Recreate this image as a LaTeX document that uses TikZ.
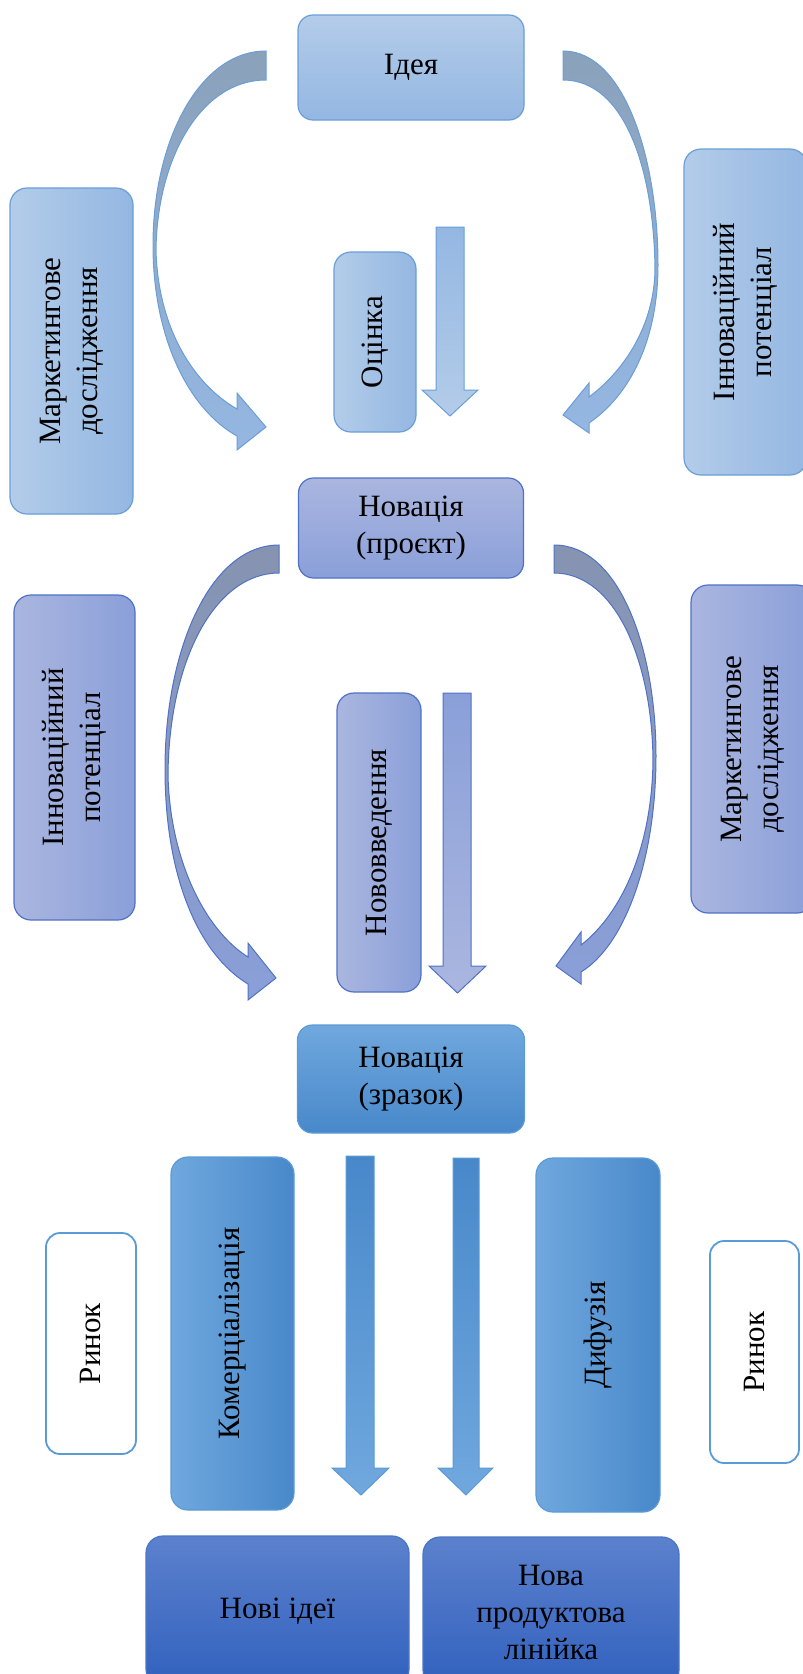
\documentclass[tikz,border=0pt]{standalone}
\usepackage{fontspec}
\setmainfont{Liberation Serif}

\definecolor{edgeA}{HTML}{6A9ED8}
\definecolor{aLight}{HTML}{B3CCE9}
\definecolor{aDark}{HTML}{94B7E2}
\definecolor{aGrey}{HTML}{8AA1BA}
\definecolor{edgeB}{HTML}{4F72C6}
\definecolor{bLight}{HTML}{AAB6DF}
\definecolor{bDark}{HTML}{8A9FD9}
\definecolor{bGrey}{HTML}{8693B0}
\definecolor{edgeC}{HTML}{5B9BD5}
\definecolor{cLight}{HTML}{70A8DE}
\definecolor{cDark}{HTML}{4888CA}
\definecolor{edgeD}{HTML}{4A75C8}
\definecolor{dLight}{HTML}{5C81CD}
\definecolor{dDark}{HTML}{3161BE}

\begin{document}
\begin{tikzpicture}[x=1pt, y=-1pt, font=\rmfamily\fontsize{31}{37}\selectfont]
        \tikzstyle{stageA}=[rectangle,rounded corners=15pt,draw=edgeA,line width=1.2pt,top color=aLight,bottom color=aDark,minimum width=226pt,minimum height=105pt,inner sep=0pt,align=center]
        \tikzstyle{sideA}=[rectangle,rounded corners=17pt,draw=edgeA,line width=1.2pt,rotate=90,left color=aLight,right color=aDark,inner sep=0pt,align=center]
        \tikzstyle{stageB}=[rectangle,rounded corners=15pt,draw=edgeB,line width=1.2pt,top color=bLight,bottom color=bDark,minimum width=225pt,minimum height=100pt,inner sep=0pt,align=center]
        \tikzstyle{sideB}=[rectangle,rounded corners=17pt,draw=edgeB,line width=1.2pt,rotate=90,left color=bLight,right color=bDark,inner sep=0pt,align=center]
        \tikzstyle{stageC}=[rectangle,rounded corners=15pt,draw=edgeC,line width=1.2pt,top color=cLight,bottom color=cDark,minimum width=227pt,minimum height=108pt,inner sep=0pt,align=center]
        \tikzstyle{sideC}=[rectangle,rounded corners=17pt,draw=edgeC,line width=1.2pt,rotate=90,left color=cLight,right color=cDark,inner sep=0pt,align=center]
        \tikzstyle{market}=[rectangle,rounded corners=14pt,draw=edgeC,line width=1.8pt,fill=white,rotate=90,inner sep=0pt,align=center]
        \tikzstyle{result}=[rectangle,rounded corners=17pt,draw=edgeD,line width=1.2pt,top color=dLight,bottom color=dDark,minimum height=150pt,inner sep=0pt,align=center]

        \useasboundingbox (0,0) rectangle (803,1674);
        \clip (0,0) rectangle (803,1674);

        % centre column
        \node[stageA] (idea) at (411,67.5) {Ідея};
        \node[stageB, below of=idea, node distance=460.5pt] (proekt) {Новація\\(проєкт)};
        \node[stageC, below of=proekt, node distance=551pt] (zrazok) {Новація\\(зразок)};

        % first step
        \node[sideA, minimum width=326pt, minimum height=123pt] (markA) at (71.5,351) {Маркетингове\\дослідження};
        \node[sideA, minimum width=326pt, minimum height=123pt] (innovA) at (745.5,312) {Інноваційний\\потенціал};
        \node[sideA, minimum width=180pt, minimum height=82pt] (ocinka) at (375,342) {Оцінка};

        % second step
        \node[sideB, minimum width=325pt, minimum height=121pt] (innovB) at (74.5,757.5) {Інноваційний\\потенціал};
        \node[sideB, minimum width=328pt, minimum height=123pt] (markB) at (752.5,749) {Маркетингове\\дослідження};
        \node[sideB, minimum width=299pt, minimum height=84pt] (novov) at (379,842.5) {Нововведення};

        % third step
        \node[sideC, minimum width=353pt, minimum height=123pt] (komerc) at (232.5,1333.5) {Комерціалізація};
        \node[sideC, minimum width=354pt, minimum height=124pt] (dyfuz) at (598,1335) {Дифузія};
        \node[market, minimum width=221pt, minimum height=90pt] (rynokA) at (91,1343.5) {Ринок};
        \node[market, minimum width=222pt, minimum height=89pt] (rynokB) at (754.5,1352) {Ринок};
        \node[result, minimum width=263pt] (ideas) at (277.5,1611) {Нові ідеї};
        \node[result, minimum width=256pt] (line) at (551,1612) {Нова\\продуктова\\лінійка};

        % curved arrows
        \draw[draw=edgeA, line width=1pt, top color=aGrey, bottom color=aDark] (266,51) .. controls (200,51) and (153,140) .. (153,245) .. controls (153,340) and (190,410) .. (237,436) -- (237,450) -- (266,427) -- (237,393) -- (237,409) .. controls (195,385) and (158,330) .. (156,250) .. controls (157,160) and (200,80) .. (266,80) -- cycle;
        \draw[draw=edgeA, line width=1pt, top color=aGrey, bottom color=aDark] (563,51) .. controls (625,51) and (658,160) .. (658,265) .. controls (658,340) and (630,395) .. (589,423) -- (589,433) -- (563,415) -- (589,383) -- (589,397) .. controls (625,370) and (654,325) .. (655,270) .. controls (654,170) and (625,80) .. (563,80) -- cycle;
        \draw[draw=edgeB, line width=1pt, top color=bGrey, bottom color=bDark] (279,545) .. controls (210,545) and (165,650) .. (165,769) .. controls (165,880) and (200,955) .. (248,984) -- (248,1000) -- (276,978) -- (248,943) -- (248,957) .. controls (205,930) and (170,860) .. (168,775) .. controls (169,660) and (215,573) .. (279,573) -- cycle;
        \draw[draw=edgeB, line width=1pt, top color=bGrey, bottom color=bDark] (554,545) .. controls (620,545) and (656,650) .. (656,756) .. controls (656,860) and (625,945) .. (581,972) -- (581,984) -- (556,966) -- (581,932) -- (581,945) .. controls (620,915) and (652,850) .. (653,760) .. controls (652,660) and (615,573) .. (554,573) -- cycle;

        % straight arrows
        \draw[draw=edgeA, line width=1pt, top color=aDark, bottom color=aLight] (436,227) -- (464,227) -- (464,390) -- (478,390) -- (450,416) -- (422,390) -- (436,390) -- cycle;
        \draw[draw=edgeB, line width=1pt, top color=bDark, bottom color=bLight] (443,693) -- (471,693) -- (471,966) -- (486,966) -- (457.5,993) -- (429,966) -- (443,966) -- cycle;
        \draw[draw=edgeC, line width=1pt, top color=cDark, bottom color=cLight] (346,1156) -- (374,1156) -- (374,1468) -- (389,1468) -- (361,1495) -- (332,1468) -- (346,1468) -- cycle;
        \draw[draw=edgeC, line width=1pt, top color=cDark, bottom color=cLight] (453,1158) -- (479,1158) -- (479,1468) -- (493,1468) -- (466,1495) -- (438,1468) -- (453,1468) -- cycle;
    \end{tikzpicture}
\end{document}
